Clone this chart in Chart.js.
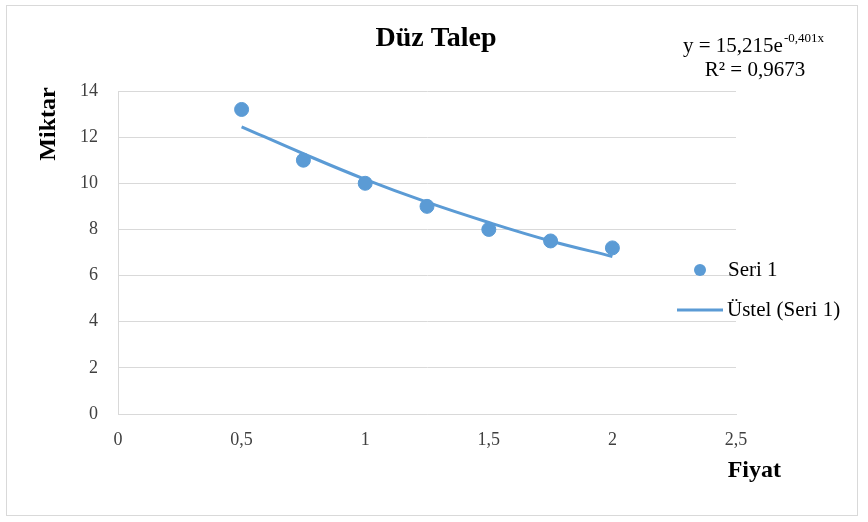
<!DOCTYPE html>
<html>
<head>
<meta charset="utf-8">
<script src="https://cdn.jsdelivr.net/npm/chart.js@4/dist/chart.umd.min.js"></script>
<style>
  html, body { margin: 0; padding: 0; background: #fff; }
  #wrap { position: relative; width: 868px; height: 522px; }
</style>
</head>
<body>
<div id="wrap"><canvas id="chart" width="868" height="522"></canvas></div>
<script>
const fiyat = [0.5, 0.75, 1, 1.25, 1.5, 1.75, 2];
const miktar = [13.2, 11.0, 10.0, 9.0, 8.0, 7.5, 7.2];
// trend line
const trend = [12.45, 11.28, 10.17, 9.18, 8.3, 7.5, 6.83];
const xTicks = [0, 0.5, 1, 1.5, 2, 2.5];
const yTicks = [0, 2, 4, 6, 8, 10, 12, 14];

const blue = "#5b9bd5";
const serif = "'Liberation Serif', 'Times New Roman', serif";

const extras = {
  id: "extras",
  afterDraw(chart) {
    const c = chart.ctx;
    c.save();
    // outer border
    c.strokeStyle = "#d9d9d9";
    c.lineWidth = 1;
    c.strokeRect(6.5, 5.5, 851, 510);

    c.fillStyle = "#000";
    c.textBaseline = "middle";
    // title
    c.font = "bold 28px " + serif;
    c.textAlign = "center";
    c.fillText("Düz Talep", 436, 39);

    // equation
    c.font = "21px " + serif;
    c.textAlign = "left";
    c.fillText("y = 15,215e", 683, 46);
    const w = c.measureText("y = 15,215e").width;
    c.font = "13px " + serif;
    c.fillText("-0,401x", 684 + w, 39);
    c.font = "21px " + serif;
    c.textAlign = "center";
    c.fillText("R² = 0,9673", 755, 70);

    // axis titles
    c.font = "bold 24px " + serif;
    c.textAlign = "right";
    c.fillText("Fiyat", 781, 471);
    c.save();
    c.translate(49, 124);
    c.rotate(-Math.PI / 2);
    c.textAlign = "center";
    c.fillText("Miktar", 0, 0);
    c.restore();

    // legend
    c.fillStyle = blue;
    c.beginPath();
    c.arc(700, 270, 6, 0, Math.PI * 2);
    c.fill();
    c.strokeStyle = blue;
    c.lineWidth = 3;
    c.beginPath();
    c.moveTo(677, 310);
    c.lineTo(723, 310);
    c.stroke();
    c.fillStyle = "#000";
    c.font = "21px " + serif;
    c.textAlign = "left";
    c.fillText("Seri 1", 728, 270);
    c.fillText("Üstel (Seri 1)", 727, 310);
    c.restore();
  }
};

new Chart(document.getElementById("chart"), {
  type: "scatter",
  data: {
    datasets: [
      {
        label: "Seri 1",
        data: fiyat.map((x, i) => ({ x: x, y: miktar[i] })),
        backgroundColor: blue,
        borderColor: blue,
        pointRadius: 7,
        pointHoverRadius: 7,
        order: 1
      },
      {
        label: "Üstel (Seri 1)",
        type: "line",
        data: fiyat.map((x, i) => ({ x: x, y: trend[i] })),
        borderColor: blue,
        borderWidth: 3,
        pointRadius: 0,
        tension: 0.4,
        fill: false,
        order: 2
      }
    ]
  },
  options: {
    responsive: false,
    animation: false,
    layout: { padding: { left: 0, top: 91, right: 132, bottom: 0 } },
    plugins: {
      legend: { display: false },
      title: { display: false },
      tooltip: { enabled: false }
    },
    scales: {
      x: {
        type: "linear",
        min: 0,
        max: 2.5,
        afterBuildTicks: (s) => { s.ticks = xTicks.map(v => ({ value: v })); },
        afterFit: (s) => { s.height = 108; },
        grid: { display: false, drawTicks: false },
        border: { display: true, color: "#d9d9d9", width: 1 },
        ticks: {
          padding: 15,
          color: "#404040",
          font: { family: serif, size: 18 },
          callback: (v) => String(v).replace(".", ",")
        }
      },
      y: {
        min: 0,
        max: 14,
        afterBuildTicks: (s) => { s.ticks = yTicks.map(v => ({ value: v })); },
        afterFit: (s) => { s.width = 118; },
        grid: { color: "#d9d9d9", drawTicks: false },
        border: { display: true, color: "#d9d9d9", width: 1 },
        ticks: {
          padding: 20,
          color: "#404040",
          font: { family: serif, size: 18 }
        }
      }
    }
  },
  plugins: [extras]
});
</script>
</body>
</html>
